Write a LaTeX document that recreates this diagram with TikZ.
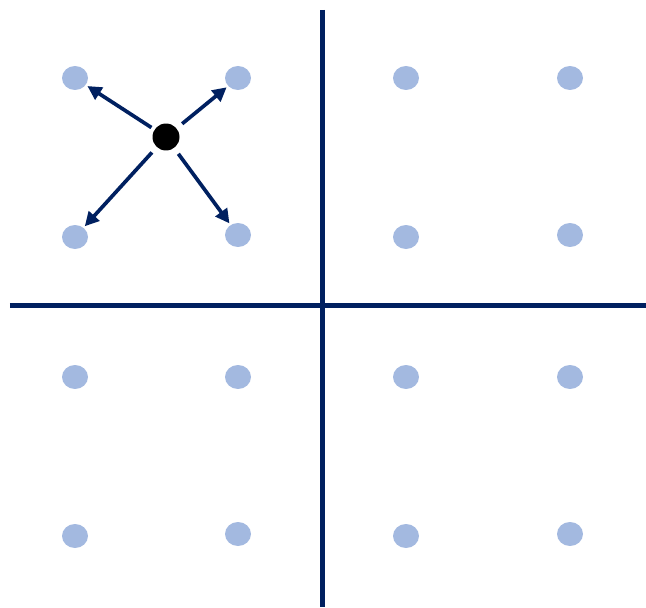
\documentclass[tikz,border=0pt]{standalone}
\usepackage{xcolor}
\usepackage{tikz}
\usetikzlibrary{arrows.meta, positioning, shapes.geometric}
\definecolor{NavyLine}{HTML}{002060}
\definecolor{PointBlue}{HTML}{A3B9E0}

\begin{document}
\begin{tikzpicture}[
    point/.style={ellipse, fill=PointBlue, minimum width=0.52cm, minimum height=0.48cm, inner sep=0pt},
    query/.style={circle, fill=black, minimum size=0.54cm, inner sep=0pt},
    axis/.style={NavyLine, line width=2.3pt},
    move/.style={NavyLine, line width=2.1pt, -{Triangle[length=8pt, width=8pt]}, shorten <=4pt, shorten >=1pt}
]
\useasboundingbox (0,0) rectangle (12.92,12.14);

% Axes
\coordinate (top) at (6.45,11.94);
\coordinate (bottom) at (6.45,0);
\coordinate (left) at (0.2,6.03);
\coordinate (right) at (12.92,6.03);
\draw[axis] (top) -- (bottom);
\draw[axis] (left) -- (right);

% Row 1
\node[point] (p11) at (1.5, 10.58) {};
\node[point] (p12) at (4.76, 10.58) {};
\node[point] (p13) at (8.12, 10.58) {};
\node[point] (p14) at (11.4, 10.58) {};

% Row 2
\node[point] (p21) at (1.5, 7.4) {};
\node[point] (p22) at (4.76, 7.44) {};
\node[point] (p23) at (8.12, 7.4) {};
\node[point] (p24) at (11.4, 7.44) {};

% Row 3
\node[point] (p31) at (1.5, 4.6) {};
\node[point] (p32) at (4.76, 4.6) {};
\node[point] (p33) at (8.12, 4.6) {};
\node[point] (p34) at (11.4, 4.6) {};

% Row 4
\node[point] (p41) at (1.5, 1.42) {};
\node[point] (p42) at (4.76, 1.46) {};
\node[point] (p43) at (8.12, 1.42) {};
\node[point] (p44) at (11.4, 1.46) {};

% Query point and moves
\node[query] (q) at (3.32, 9.4) {};
\draw[move, shorten <=2pt] (q) -- (p11);
\draw[move] (q) -- (p12);
\draw[move] (q) -- (p21);
\draw[move] (q) -- (p22);
\end{tikzpicture}
\end{document}
